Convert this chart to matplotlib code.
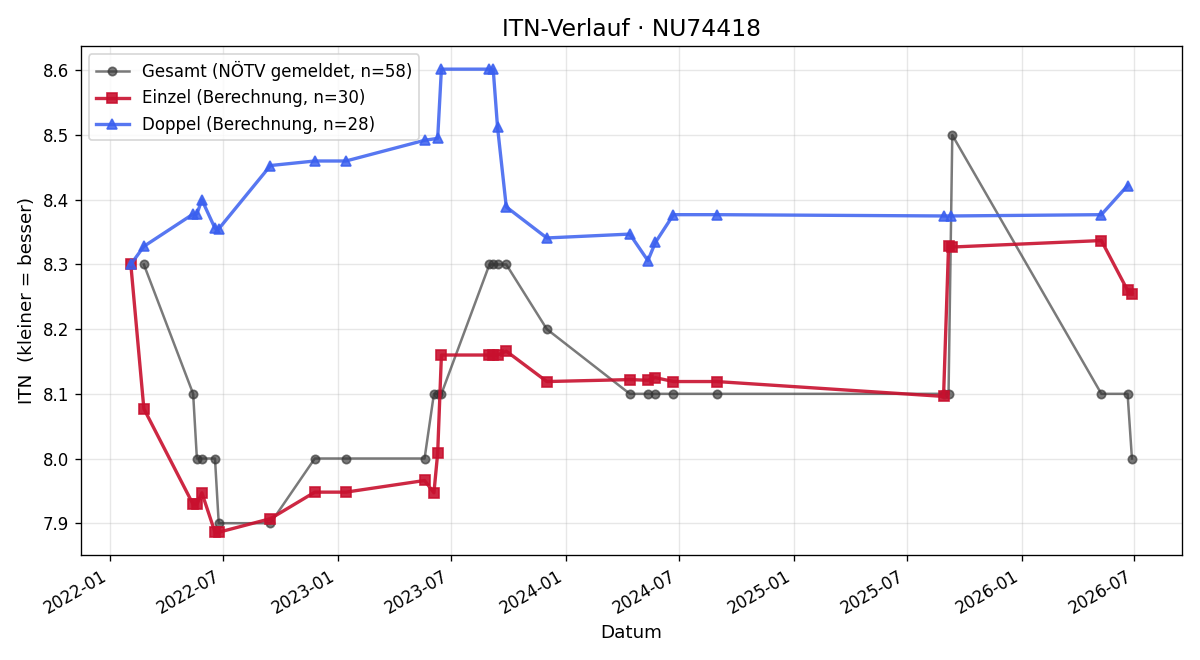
import pandas as pd
import matplotlib.pyplot as plt
import matplotlib.dates as mdates

# Gesamt (NÖTV gemeldet)
gesamt_dates = [
    "2022-02-24", "2022-05-14", "2022-05-20", "2022-05-28", "2022-06-18",
    "2022-06-24", "2022-09-15", "2022-11-25", "2023-01-14", "2023-05-20",
    "2023-06-04", "2023-06-10", "2023-06-16", "2023-09-01", "2023-09-07",
    "2023-09-14", "2023-09-28", "2023-12-02", "2024-04-13", "2024-05-12",
    "2024-05-24", "2024-06-22", "2024-08-30", "2025-08-29", "2025-09-06",
    "2025-09-12", "2026-05-09", "2026-06-20", "2026-06-27",
]
gesamt_itn = [
    8.3, 8.1, 8.0, 8.0, 8.0,
    7.9, 7.9, 8.0, 8.0, 8.0,
    8.1, 8.1, 8.1, 8.3, 8.3,
    8.3, 8.3, 8.2, 8.1, 8.1,
    8.1, 8.1, 8.1, 8.1, 8.1,
    8.5, 8.1, 8.1, 8.0,
]

# Einzel (Berechnung)
einzel_dates = [
    "2022-02-03", "2022-02-24", "2022-05-14", "2022-05-20", "2022-05-28",
    "2022-06-18", "2022-06-24", "2022-09-15", "2022-11-25", "2023-01-14",
    "2023-05-20", "2023-06-04", "2023-06-10", "2023-06-16", "2023-09-01",
    "2023-09-07", "2023-09-14", "2023-09-28", "2023-12-02", "2024-04-13",
    "2024-05-12", "2024-05-24", "2024-06-22", "2024-08-30", "2025-08-29",
    "2025-09-06", "2025-09-12", "2026-05-09", "2026-06-20", "2026-06-27",
]
einzel_itn = [
    8.301, 8.077, 7.929, 7.929, 7.947,
    7.886, 7.886, 7.907, 7.948, 7.948,
    7.966, 7.947, 8.008, 8.160, 8.160,
    8.160, 8.160, 8.166, 8.119, 8.122,
    8.121, 8.125, 8.119, 8.119, 8.096,
    8.328, 8.327, 8.337, 8.260, 8.255,
]

# Doppel (Berechnung)
doppel_dates = [
    "2022-02-03", "2022-02-24", "2022-05-14", "2022-05-20", "2022-05-28",
    "2022-06-18", "2022-06-24", "2022-09-15", "2022-11-25", "2023-01-14",
    "2023-05-20", "2023-06-10", "2023-06-16", "2023-09-01", "2023-09-07",
    "2023-09-14", "2023-09-28", "2023-12-02", "2024-04-13", "2024-05-12",
    "2024-05-24", "2024-06-22", "2024-08-30", "2025-08-29", "2025-09-10",
    "2026-05-09", "2026-06-20",
]
doppel_itn = [
    8.300, 8.328, 8.378, 8.378, 8.400,
    8.356, 8.355, 8.453, 8.460, 8.460,
    8.492, 8.495, 8.602, 8.602, 8.602,
    8.512, 8.389, 8.341, 8.347, 8.306,
    8.334, 8.377, 8.377, 8.375, 8.375,
    8.377, 8.422,
]

fig, ax = plt.subplots(figsize=(10, 5.5), dpi=120)

ax.plot(
    pd.to_datetime(gesamt_dates), gesamt_itn,
    color="#333333", alpha=0.65, marker="o", markersize=5,
    linewidth=1.5, label="Gesamt (NÖTV gemeldet, n=58)"
)
ax.plot(
    pd.to_datetime(einzel_dates), einzel_itn,
    color="#C8102E", alpha=0.9, marker="s", markersize=6,
    linewidth=2, label="Einzel (Berechnung, n=30)"
)
ax.plot(
    pd.to_datetime(doppel_dates), doppel_itn,
    color="#3A5FEF", alpha=0.85, marker="^", markersize=6,
    linewidth=2, label="Doppel (Berechnung, n=28)"
)

ax.set_title("ITN-Verlauf · NU74418", fontsize=14)
ax.set_xlabel("Datum", fontsize=11)
ax.set_ylabel("ITN  (kleiner = besser)", fontsize=11)
ax.grid(True, alpha=0.3)
ax.legend(loc="upper left", fontsize=10)

ax.xaxis.set_major_locator(mdates.MonthLocator(bymonth=[1, 7]))
ax.xaxis.set_major_formatter(mdates.DateFormatter("%Y-%m"))
fig.autofmt_xdate()

plt.tight_layout()
plt.savefig("out.png")
